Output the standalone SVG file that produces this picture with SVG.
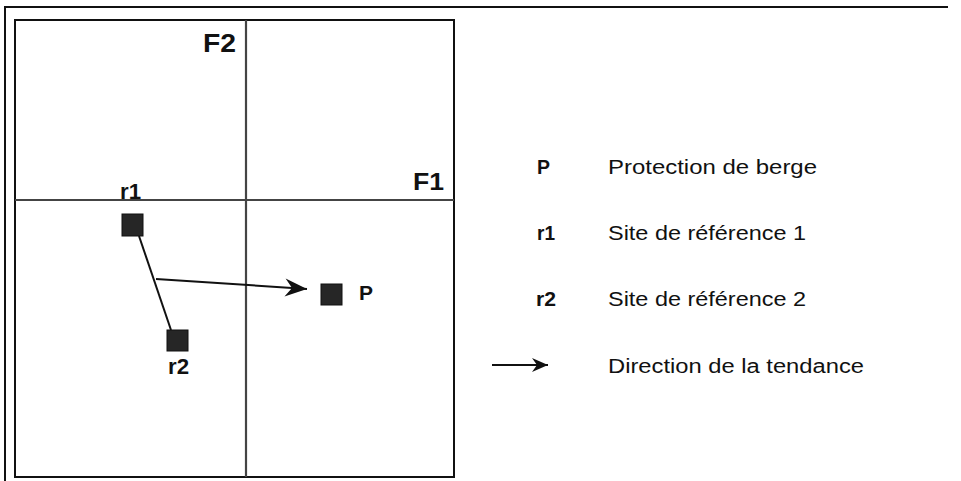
<svg xmlns="http://www.w3.org/2000/svg" width="961" height="481" viewBox="0 0 961 481">
<style>
.frame{fill:none;stroke:#111;stroke-width:2}
.axis{stroke:#444;stroke-width:2.2}
.sq{fill:#262626;stroke:#111;stroke-width:1}
.lbl{font-family:"Liberation Sans",Arial,sans-serif;font-weight:bold;fill:#111}
.leg{font-family:"Liberation Sans",Arial,sans-serif;font-size:20px;fill:#111}
.conn{stroke:#111;stroke-width:2;fill:none}
</style>
<defs>
<marker id="arr" viewBox="-23 -10 24 20" refX="0" refY="0" markerWidth="24" markerHeight="20" markerUnits="userSpaceOnUse" orient="auto">
<path d="M0,0 L-22,-9 L-15,0 L-22,9 Z" fill="#111"/>
</marker>
<marker id="arrs" viewBox="-17 -8 18 16" refX="0" refY="0" markerWidth="18" markerHeight="16" markerUnits="userSpaceOnUse" orient="auto">
<path d="M0,0 L-16,-7 L-11,0 L-16,7 Z" fill="#111"/>
</marker>
</defs>
<rect width="961" height="481" fill="#fff"/>
<g id="outer-frame">
<path class="frame" d="M5,481 L5,7 L948,7"/>
</g>
<g id="plot">
<rect class="frame" x="15" y="20" width="439" height="457"/>
<line class="axis" x1="246" y1="20" x2="246" y2="477"/>
<line class="axis" x1="15" y1="200" x2="454" y2="200"/>
<text class="lbl" x="203" y="52" font-size="25" textLength="33" lengthAdjust="spacingAndGlyphs">F2</text>
<text class="lbl" x="413" y="190" font-size="24" textLength="31" lengthAdjust="spacingAndGlyphs">F1</text>
</g>
<g id="connectors">
<line class="conn" x1="139" y1="236" x2="171" y2="330"/>
<line class="conn" x1="156" y1="279" x2="307" y2="289" marker-end="url(#arr)"/>
</g>
<g id="node-r1">
<rect class="sq" x="122" y="214" width="21" height="22"/>
<text class="lbl" x="120" y="199" font-size="22" textLength="21" lengthAdjust="spacingAndGlyphs">r1</text>
</g>
<g id="node-r2">
<rect class="sq" x="167" y="330" width="21" height="21"/>
<text class="lbl" x="168" y="374" font-size="22" textLength="21" lengthAdjust="spacingAndGlyphs">r2</text>
</g>
<g id="node-P">
<rect class="sq" x="321" y="284" width="21" height="21"/>
<text class="lbl" x="359" y="300" font-size="20" textLength="14" lengthAdjust="spacingAndGlyphs">P</text>
</g>
<g id="legend">
<text class="lbl" x="537" y="174" font-size="20" textLength="13" lengthAdjust="spacingAndGlyphs">P</text>
<text class="leg" x="608" y="174" textLength="209" lengthAdjust="spacingAndGlyphs">Protection de berge</text>
<text class="lbl" x="537" y="240" font-size="20" textLength="18" lengthAdjust="spacingAndGlyphs">r1</text>
<text class="leg" x="608" y="240" textLength="198" lengthAdjust="spacingAndGlyphs">Site de référence 1</text>
<text class="lbl" x="536" y="306" font-size="20" textLength="20" lengthAdjust="spacingAndGlyphs">r2</text>
<text class="leg" x="608" y="306" textLength="198" lengthAdjust="spacingAndGlyphs">Site de référence 2</text>
<line class="conn" x1="492" y1="365" x2="548" y2="365" marker-end="url(#arrs)"/>
<text class="leg" x="608" y="373" textLength="256" lengthAdjust="spacingAndGlyphs">Direction de la tendance</text>
</g>
</svg>
